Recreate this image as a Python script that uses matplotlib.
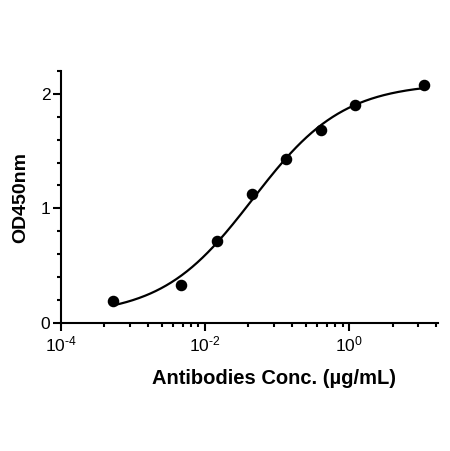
import numpy as np
import matplotlib
matplotlib.use("Agg")
import matplotlib.pyplot as plt
from matplotlib.ticker import FixedLocator, FixedFormatter, NullFormatter

plt.rcParams['font.family'] = ['Liberation Sans', 'DejaVu Sans']
plt.rcParams['mathtext.fontset'] = 'custom'
plt.rcParams['mathtext.rm'] = 'Liberation Sans'
plt.rcParams['mathtext.it'] = 'Liberation Sans:italic'
plt.rcParams['mathtext.bf'] = 'Liberation Sans:bold'

# Data
conc = [5.3e-4, 4.7e-3, 0.0146, 0.0443, 0.133, 0.40, 1.22, 11.0]
od450 = [0.19, 0.33, 0.715, 1.125, 1.43, 1.68, 1.90, 2.075]

x_major = [1e-4, 1e-2, 1e0]
x_major_labels = [r'$\mathregular{10^{\text{-}4}}$', r'$\mathregular{10^{\text{-}2}}$', r'$\mathregular{10^{0}}$']
y_major = [0, 1, 2]
y_major_labels = ['0', '1', '2']

# 4PL fit of the data (grid over slope/EC50, linear least squares for bottom/top)
xd = np.array(conc)
yd = np.array(od450)
best = None
for h in np.arange(0.3, 1.6, 0.005):
    for lec in np.arange(-2.8, 0.2, 0.005):
        g = 1.0 / (1.0 + (10**lec / xd) ** h)
        A = np.vstack([1 - g, g]).T
        coef, res, *_ = np.linalg.lstsq(A, yd, rcond=None)
        r = np.sum((A @ coef - yd) ** 2)
        if best is None or r < best[0]:
            best = (r, h, lec, coef[0], coef[1])
_, hill, logec50, bottom, top = best
xf = np.logspace(np.log10(xd.min()), np.log10(xd.max()), 300)
yf = bottom + (top - bottom) / (1.0 + (10**logec50 / xf) ** hill)

fig = plt.figure(figsize=(4.5, 4.51), dpi=100)
ax = fig.add_axes([0.1349, 0.2845, 0.9733 - 0.1349, 0.8426 - 0.2845])
ax.plot(xf, yf, color='black', lw=1.6, zorder=2)
ax.plot(conc, od450, 'o', color='black', ms=7.3, zorder=3, clip_on=False)

ax.set_xscale('log')
ax.set_xlim(1e-4, 17)
ax.set_ylim(0, 2.2)

minor_x = []
for base in [1e-4, 1e-2, 1e0]:
    for k in range(2, 10):
        v = base * k * k
        if v < 17:
            minor_x.append(v)
ax.xaxis.set_major_locator(FixedLocator(x_major))
ax.xaxis.set_major_formatter(FixedFormatter(x_major_labels))
ax.xaxis.set_minor_locator(FixedLocator(minor_x))
ax.xaxis.set_minor_formatter(NullFormatter())

ax.yaxis.set_major_locator(FixedLocator(y_major))
ax.yaxis.set_major_formatter(FixedFormatter(y_major_labels))
ax.yaxis.set_minor_locator(FixedLocator([0.2, 0.4, 0.6, 0.8, 1.2, 1.4, 1.6, 1.8, 2.2]))

for s in ['top', 'right']:
    ax.spines[s].set_visible(False)
for s in ['left', 'bottom']:
    ax.spines[s].set_linewidth(1.5)

ax.tick_params(which='major', direction='out', length=5.5, width=1.5, labelsize=12.5, pad=2, colors='black')
ax.tick_params(which='minor', direction='out', length=3, width=1.5)
ax.tick_params(axis='x', which='major', pad=3)

fig.text(273.5 / 450, 1 - 378 / 451, 'Antibodies Conc. (µg/mL)', fontsize=14.5, fontweight='bold',
         ha='center', va='center')
fig.text(21 / 450, 1 - 197.5 / 451, 'OD450nm', fontsize=14, fontweight='bold',
         ha='center', va='center', rotation=90)

fig.savefig('out.png', dpi=100)
